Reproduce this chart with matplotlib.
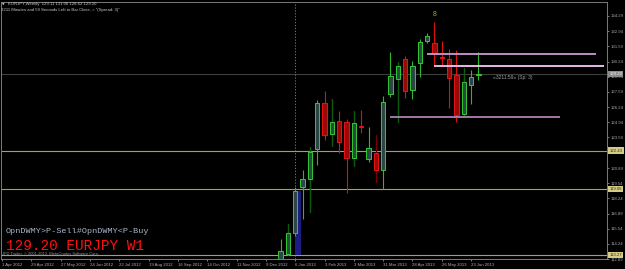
import matplotlib
matplotlib.use("Agg")
import matplotlib.pyplot as plt
from matplotlib.patches import Rectangle

W, H = 625, 269

# ---------------- data ----------------
symbol = "EURJPY"
timeframe = "Weekly"
# weekly bar index counted from 1 Apr 2012 (index 0)
bar_index = list(range(38, 66))
opens  = [112.50, 113.33, 115.20, 119.25, 119.90, 122.54, 126.61, 123.86, 125.03, 124.94,
          121.80, 124.60, 121.71, 122.19, 120.69, 127.38, 128.75, 130.51, 127.73, 130.10,
          132.09, 131.92, 130.66, 130.51, 129.05, 125.62, 128.17, 129.11]
highs  = [114.65, 115.98, 119.25, 120.71, 122.72, 126.90, 127.67, 126.94, 125.88, 125.18,
          125.91, 126.00, 124.47, 123.80, 127.23, 131.07, 130.19, 130.75, 130.31, 132.21,
          132.77, 133.76, 132.09, 131.36, 131.25, 129.72, 129.51, 131.06]
lows   = [112.20, 113.20, 114.90, 116.38, 117.05, 121.13, 123.36, 122.83, 122.24, 118.72,
          121.10, 124.00, 121.40, 119.69, 119.06, 127.10, 124.97, 127.03, 126.94, 128.93,
          131.86, 129.89, 129.89, 126.15, 124.91, 125.45, 126.50, 128.62]
closes = [113.57, 115.18, 118.90, 119.93, 122.30, 126.61, 123.83, 124.91, 123.16, 121.80,
          124.83, 124.53, 122.63, 120.72, 126.67, 128.96, 129.84, 127.67, 129.84, 131.98,
          132.50, 130.95, 130.60, 128.84, 125.58, 128.43, 128.87, 129.20]

# indicator histogram (dark high-low strokes)
ind_index = [39, 42, 45, 48, 51, 54, 63]
ind_lo    = [113.20, 117.05, 122.83, 121.10, 119.69, 124.97, 125.45]
ind_hi    = [115.98, 122.72, 126.94, 125.91, 123.80, 130.19, 129.72]

# horizontal levels
level_prices = [122.43, 119.06, 113.27]
current_price = 129.20

# trend lines (price, start bar, end bar)
tl_prices = [130.95, 129.84, 125.38]
tl_start  = [58, 59, 53]
tl_end    = [81.1, 82.1, 76.1]

# rectangle object
rect_bar = [40, 40.85]
rect_price = [113.24, 118.87]

vline_bar = 40
fractal_bar = 59
fractal_price = 134.44

date_ticks = list(range(0, 65, 4))
date_labels = ["1 Apr 2012", "29 Apr 2012", "27 May 2012", "24 Jun 2012", "22 Jul 2012",
               "19 Aug 2012", "16 Sep 2012", "14 Oct 2012", "11 Nov 2012", "9 Dec 2012",
               "6 Jan 2013", "3 Feb 2013", "3 Mar 2013", "31 Mar 2013", "28 Apr 2013",
               "26 May 2013", "23 Jun 2013"]
price_ticks = [134.29, 132.94, 131.59, 130.24, 128.94, 127.59, 126.24, 124.94, 123.59,
               120.89, 119.54, 118.24, 116.89, 115.54, 114.24, 112.89]

# ---------------- figure ----------------
fig = plt.figure(figsize=(W / 100, H / 100), dpi=100, facecolor="black")
ax_l, ax_r, ax_t, ax_b = 1, 607, 1.5, 259
ax = fig.add_axes([ax_l / W, 1 - ax_b / H, (ax_r - ax_l) / W, (ax_b - ax_t) / H])
ax.set_facecolor("black")
px_per_bar = 7.33
ax.set_xlim(-1 / px_per_bar, (ax_r - 2) / px_per_bar)
ax.set_ylim(112.89, 135.54)

for s in ax.spines.values():
    s.set_color("#7a7a7a")
    s.set_linewidth(0.7)

SANS = ["Liberation Sans", "DejaVu Sans"]
MONO = ["Liberation Mono", "DejaVu Sans Mono"]

# levels
ax.axhline(current_price, color="#3e3e3e", lw=0.8, zorder=1)
for p in level_prices:
    ax.axhline(p, color="#a59f6c", lw=0.8, zorder=1)
ax.axvline(vline_bar, color="#8a8a8a", lw=0.6, ls=(0, (1.5, 2)), zorder=1)

# rectangle
ax.add_patch(Rectangle((rect_bar[0], rect_price[0]), rect_bar[1] - rect_bar[0],
                       rect_price[1] - rect_price[0], facecolor="#1c1c84",
                       edgecolor="none", zorder=1.5))

# candles
bull = [c >= o for o, c in zip(opens, closes)]
wick_col = ["#2cb82c" if b else "#dd1010" for b in bull]
ax.vlines(bar_index, lows, highs, colors=wick_col, lw=0.8, zorder=2)
ind_col = []
for i in ind_index:
    k = bar_index.index(i)
    ind_col.append("#0c5a0c" if bull[k] else "#7a0000")
ax.vlines(ind_index, ind_lo, ind_hi, colors=ind_col, lw=0.9, zorder=2.5)

bottoms = [min(o, c) for o, c in zip(opens, closes)]
heights = [max(abs(c - o), 0.02) for o, c in zip(opens, closes)]
fills = ["#2b4646" if b else "#9a0808" for b in bull]
edges = ["#32c232" if b else "#e01414" for b in bull]
ax.bar(bar_index, heights, width=0.6, bottom=bottoms, color=fills, edgecolor=edges,
       linewidth=0.75, zorder=3)

# trend lines
tl_colors = ["#c89ad0", "#f6c8f6", "#b080b4"]
for p, a, b, c in zip(tl_prices, tl_start, tl_end, tl_colors):
    ax.plot([a, b], [p, p], color=c, lw=1.3, solid_capstyle="butt", zorder=4)

# fractal symbol
ax.text(fractal_bar, fractal_price, "8", color="#c0a418", fontsize=5, ha="center",
        va="center", family=SANS, zorder=5)

# timer text
ax.text(67.0, 128.84, "\u00ab3211:59\u00bb (Sp: 3)", color="#a0a0a0", fontsize=3.6,
        ha="left", va="center", family=SANS, zorder=5)

# axes ticks
ax.yaxis.tick_right()
ax.set_yticks(price_ticks)
ax.set_yticklabels([f"{p:.2f}" for p in price_ticks], fontsize=3.1, family=SANS,
                   color="#a8a8a8")
ax.tick_params(axis="y", direction="out", length=1.5, width=0.5, colors="#a8a8a8", pad=1)
ax.set_xticks(date_ticks)
ax.set_xticklabels(date_labels, fontsize=3.1, family=SANS, color="#b0b0b0")
for lbl in ax.get_xticklabels():
    lbl.set_ha("left")
ax.tick_params(axis="x", direction="out", length=1.5, width=0.5, colors="#b0b0b0", pad=1.5)

# price boxes
def price_box(p, fc, tc):
    ax.annotate(f"{p:.2f}", xy=(1.004, p), xycoords=("axes fraction", "data"),
                ha="left", va="center", fontsize=3.1, family=SANS, color=tc,
                bbox=dict(boxstyle="square,pad=0.25", fc=fc, ec="none"),
                annotation_clip=False, zorder=6)

price_box(current_price, "#8c8c8c", "#f0f0f0")
for p in level_prices:
    price_box(p, "#d4cc86", "#303018")

# header / footer texts
def fx(px):
    return px / W

def fy(py):
    return 1 - py / H

fig.text(fx(2.0), fy(4.3), "\u25bc", fontsize=2.4, color="#c0c0c0", va="center",
         family=["DejaVu Sans"])
fig.text(fx(8), fy(4.3),
         f"{symbol},{timeframe}  {opens[-1]:.2f} {highs[-1]:.2f} {lows[-1]:.2f} {closes[-1]:.2f}",
         fontsize=3.1, color="#c8c8c8", va="center", family=SANS)
fig.text(fx(1.5), fy(10.3),
         '3211 Minutes and 59 Seconds Left to Bar Close, = "(Spread: 3)"',
         fontsize=3.1, color="#c8c8c8", va="center", family=SANS)
fig.text(fx(5.5), fy(232.7), "OpnDWMY>P-Sell#OpnDWMY<P-Buy", fontsize=6.1,
         color="#a8b8cc", va="baseline", family=MONO)
fig.text(fx(5.5), fy(250.0), f"{closes[-1]:.2f} {symbol} W1", fontsize=10.4,
         color="#ff1010", va="baseline", family=MONO)
fig.text(fx(2), fy(253.6), "JFD Trader, \u00a9 2001-2013, MetaQuotes Software Corp.",
         fontsize=2.9, color="#909090", va="center", family=SANS)

fig.savefig("out.png", dpi=100, facecolor="black")
